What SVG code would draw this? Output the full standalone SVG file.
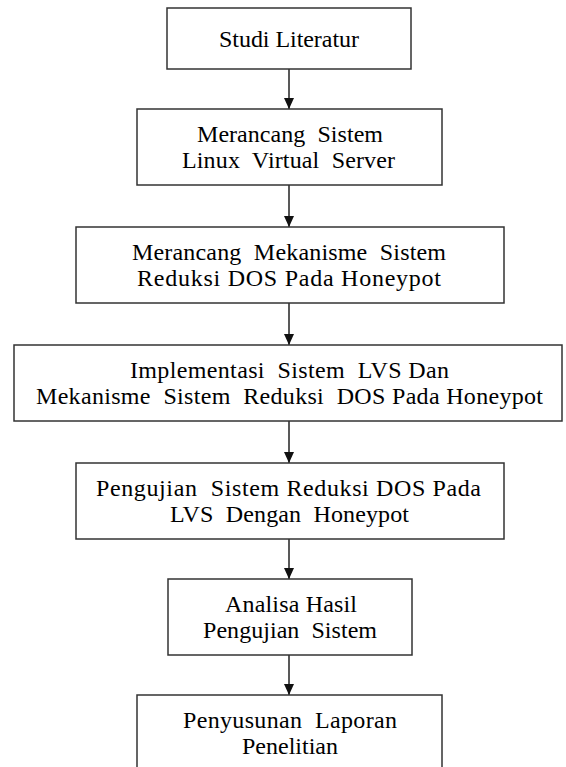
<svg xmlns="http://www.w3.org/2000/svg" width="566" height="767" viewBox="0 0 566 767">
<style>
.box{fill:#fff;stroke:#333;stroke-width:1.5}
.t{font-family:"Liberation Serif","Times New Roman",serif;font-size:24px;fill:#000;text-anchor:middle;white-space:pre}
.c{stroke:#222;stroke-width:1.5;fill:none}
</style>
<defs>
<marker id="ah" viewBox="0 0 11 10" refX="11" refY="5" markerWidth="11" markerHeight="10" markerUnits="userSpaceOnUse" orient="auto">
<path d="M0,0 L11,5 L0,10 Z" fill="#111"/>
</marker>
</defs>
<rect width="566" height="767" fill="#fff"/>
<g id="connectors">
<line class="c" x1="289" y1="69" x2="289" y2="109" marker-end="url(#ah)"/>
<line class="c" x1="289" y1="185" x2="289" y2="227" marker-end="url(#ah)"/>
<line class="c" x1="289" y1="303" x2="289" y2="345" marker-end="url(#ah)"/>
<line class="c" x1="289" y1="421" x2="289" y2="463" marker-end="url(#ah)"/>
<line class="c" x1="289" y1="539" x2="289" y2="579" marker-end="url(#ah)"/>
<line class="c" x1="289" y1="655" x2="289" y2="695" marker-end="url(#ah)"/>
</g>
<g id="n1">
<rect class="box" x="167" y="8" width="244" height="61"/>
<text class="t" xml:space="preserve" x="289" y="47" textLength="140" lengthAdjust="spacing">Studi Literatur</text>
</g>
<g id="n2">
<rect class="box" x="137" y="109" width="305" height="76"/>
<text class="t" xml:space="preserve" x="290" y="142" textLength="186" lengthAdjust="spacing">Merancang  Sistem</text>
<text class="t" xml:space="preserve" x="288.5" y="168" textLength="213" lengthAdjust="spacing">Linux  Virtual  Server</text>
</g>
<g id="n3">
<rect class="box" x="76" y="227" width="428" height="76"/>
<text class="t" xml:space="preserve" x="289" y="260" textLength="314" lengthAdjust="spacing">Merancang  Mekanisme  Sistem</text>
<text class="t" xml:space="preserve" x="289" y="286" textLength="304" lengthAdjust="spacing">Reduksi DOS Pada Honeypot</text>
</g>
<g id="n4">
<rect class="box" x="14" y="345" width="548" height="76"/>
<text class="t" xml:space="preserve" x="289.5" y="378" textLength="319" lengthAdjust="spacing">Implementasi  Sistem  LVS Dan</text>
<text class="t" xml:space="preserve" x="289.5" y="404" textLength="507" lengthAdjust="spacing">Mekanisme  Sistem  Reduksi  DOS Pada Honeypot</text>
</g>
<g id="n5">
<rect class="box" x="76" y="463" width="428" height="76"/>
<text class="t" xml:space="preserve" x="288.5" y="496" textLength="385" lengthAdjust="spacing">Pengujian  Sistem Reduksi DOS Pada</text>
<text class="t" xml:space="preserve" x="289.5" y="522" textLength="239" lengthAdjust="spacing">LVS  Dengan  Honeypot</text>
</g>
<g id="n6">
<rect class="box" x="168" y="579" width="244" height="76"/>
<text class="t" xml:space="preserve" x="291" y="612" textLength="132" lengthAdjust="spacing">Analisa Hasil</text>
<text class="t" xml:space="preserve" x="290" y="638" textLength="174" lengthAdjust="spacing">Pengujian  Sistem</text>
</g>
<g id="n7">
<rect class="box" x="137" y="695" width="305" height="76"/>
<text class="t" xml:space="preserve" x="290" y="728" textLength="214" lengthAdjust="spacing">Penyusunan  Laporan</text>
<text class="t" xml:space="preserve" x="290" y="754" textLength="96" lengthAdjust="spacing">Penelitian</text>
</g>
</svg>
